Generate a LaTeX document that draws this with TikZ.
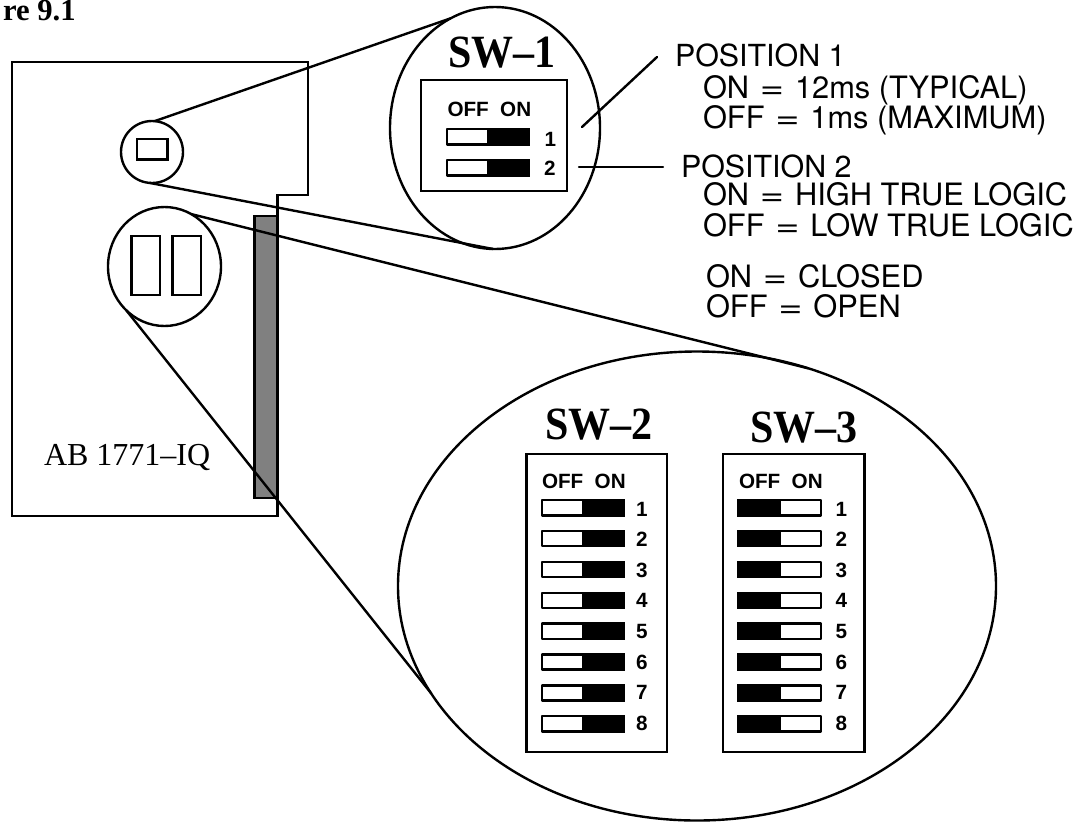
\documentclass[tikz,border=0pt]{standalone}
\usepackage{graphicx}
\usepackage{fontspec}
\setmainfont{Liberation Serif}
\newfontfamily\labelfont{TeX Gyre Heros}
\newfontfamily\swfont{Liberation Sans}
\usetikzlibrary{shapes.geometric}
\tikzset{
  thick line/.style={line width=2.15pt,line join=miter},
  oval/.style 2 args={ellipse,draw,line width=1.8pt,inner sep=0pt,outer sep=0pt,minimum width=#1*0.75pt,minimum height=#2*0.75pt},
  conn/.style={line width=1.8pt,line cap=round},
  box/.style={line width=1.7pt},
  txt/.style={anchor=base west,inner sep=0pt,outer sep=0pt},
  note/.style={txt,font=\labelfont\fontsize{22.8}{24}\selectfont},
  subnote/.style={txt,font=\labelfont\fontsize{23.1}{25}\selectfont},
  head/.style={txt,font=\bfseries\fontsize{31.5}{34}\selectfont},
  swlabel/.style={txt,font=\swfont\bfseries\fontsize{15.5}{17}\selectfont},
}
\newcommand{\eqs}{\hspace{0.35em}\scalebox{1.35}[1]{=}\hspace{0.35em}}
\newcommand{\headtext}[1]{\scalebox{1}[1.1]{#1}}
\newcommand{\swbarR}[2]{%
  \fill (#1+41,#2) rectangle (#1+84,#2+17.5);
  \draw[line width=1.8pt,line join=round] (#1+1.2,#2+1.2) rectangle (#1+83,#2+16.3);}
\newcommand{\swbarL}[2]{%
  \fill (#1,#2) rectangle (#1+44,#2+17.5);
  \draw[line width=1.8pt,line join=round] (#1+1.2,#2+1.2) rectangle (#1+83.8,#2+16.3);}
\begin{document}
\begin{tikzpicture}[x=0.75pt,y=-0.75pt]
\useasboundingbox (0,0) rectangle (1085,822);
\fill[white] (0,0) rectangle (1085,822);

% board
\draw[thick line] (12,62) -- (308,62) -- (308,195) -- (277.5,195) -- (277.5,516) -- (12,516) -- cycle;
\draw[thick line,fill=black!50] (254.5,216) rectangle (277.5,498);

% small ovals on the board
\node[oval={62}{62}] (c1) at (152,152) {};
\draw[box] (137,139) rectangle (167.5,159.5);
\node[oval={113}{119}] (c2) at (164.5,266.5) {};
\draw[box] (131.5,236) rectangle (160,295);
\draw[box] (172.5,236) rectangle (201,295);

% enlarged ovals
\node[oval={210}{242}] (zoomA) at (495,128) {};
\node[oval={598}{469}] (zoomB) at (697,586) {};

% connectors
\draw[conn] (c1.85) -- (zoomA.112.6);
\draw[conn] (c1.266) -- (zoomA.269);
\draw[conn] (c2.63.7) -- (zoomB.63.3);
\draw[conn] (c2.229) -- (zoomB.202);

% SW-1
\node[head] (sw1) at (448,67) {\headtext{SW–1}};
\draw[box] (421,80) rectangle (567,191);
\node[swlabel] (sw1hdr) at (447.5,116) {OFF\hspace{0.55em}ON};
\swbarR{446}{128}
\swbarR{446}{159}
\node[swlabel] (sw1n1) at (544.5,146) {1};
\node[swlabel] (sw1n2) at (544,175) {2};

% leaders
\coordinate (l1a) at (582,127);
\coordinate (l1b) at (657,57);
\coordinate (l2a) at (579,167);
\coordinate (l2b) at (663,167);
\draw[conn] (l1a) -- (l1b);
\draw[conn] (l2a) -- (l2b);

% SW-2
\node[head] (sw2) at (545,439) {\headtext{SW–2}};
\draw[box] (526.5,454) rectangle (667,752);
\node[swlabel] (sw2hdr) at (542,488) {OFF\hspace{0.55em}ON};
\foreach \i [evaluate=\i as \yy using {499+(\i-1)*30.86},evaluate=\i as \yb using {516+(\i-1)*30.6}] in {1,...,8}{
  \swbarR{541}{\yy}
  \node[swlabel] (sw2n\i) at (636,\yb) {\i};
}

% SW-3
\node[head] (sw3) at (750,442) {\headtext{SW–3}};
\draw[box] (723,454) rectangle (864.5,752);
\node[swlabel] (sw3hdr) at (739,488) {OFF\hspace{0.55em}ON};
\foreach \i [evaluate=\i as \yy using {499+(\i-1)*30.86},evaluate=\i as \yb using {516+(\i-1)*30.6}] in {1,...,8}{
  \swbarL{737}{\yy}
  \node[swlabel] (sw3n\i) at (835.5,\yb) {\i};
}

% notes
\node[note] (p1)  at (675,66)  {POSITION 1};
\node[subnote] (p1a) at (703,98)  {ON\eqs 12ms (TYPICAL)};
\node[subnote] (p1b) at (703,128) {OFF\eqs 1ms (MAXIMUM)};
\node[note] (p2)  at (681,177) {POSITION 2};
\node[subnote] (p2a) at (703,205) {ON\eqs HIGH TRUE LOGIC};
\node[subnote] (p2b) at (703,236) {OFF\eqs LOW TRUE LOGIC};
\node[subnote] (k1)  at (706,287) {ON\eqs CLOSED};
\node[subnote] (k2)  at (706,317) {OFF\eqs OPEN};

% board label and title
\node[txt,font=\fontsize{24}{26}\selectfont] (ab) at (44,465) {AB 1771–IQ};
\node[anchor=base east,inner sep=0pt,font=\bfseries\fontsize{23}{24}\selectfont] (fig) at (76,20.5) {re 9.1};
\end{tikzpicture}
\end{document}
